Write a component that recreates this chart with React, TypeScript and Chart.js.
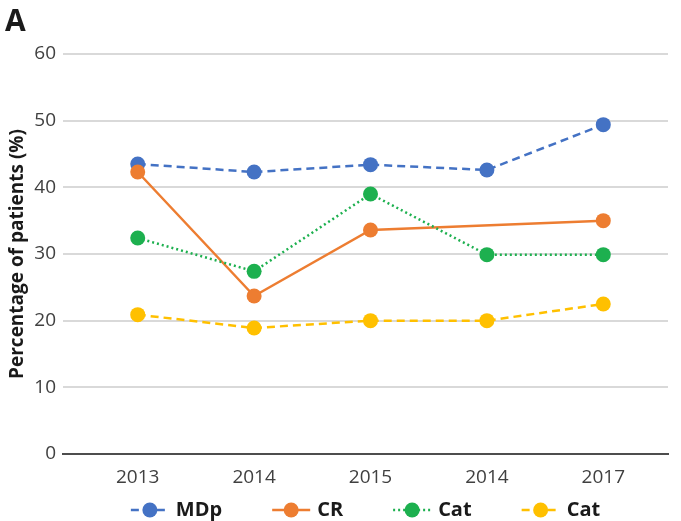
import React, { useEffect, useRef } from 'react';
import { Chart, registerables } from 'chart.js';

Chart.register(...registerables);
Chart.defaults.font.family = "'Open Sans', 'DejaVu Sans', sans-serif";

const categories = ['2013', '2014', '2015', '2014', '2017'];
const seriesNames = ['MDp', 'CR', 'Cat', 'Cat'];
const mdpValues = [43.5, 42.3, 43.4, 42.6, 49.4];
const crValues = [42.3, 23.7, 33.6, null, 35.0];
const catGreenValues = [32.4, 27.4, 39.0, 29.9, 29.9];
const catYellowValues = [20.9, 18.9, 20.0, 20.0, 22.5];
const yTicks = [0, 10, 20, 30, 40, 50, 60];

const colors = ['#4472C4', '#ED7D31', '#1DB04F', '#FFC000'];
const dashes: number[][] = [[8, 5], [], [2, 3], [8, 5]];

const legendPlugin = {
  id: 'lineLegend',
  afterDraw(chart: any) {
    const ctx: CanvasRenderingContext2D = chart.ctx;
    const area = chart.chartArea;
    const lineLen = 38;
    const textGap = 7;
    const itemGap = 50;
    const y = chart.height - 11;
    ctx.save();
    ctx.font = "bold 20px 'Open Sans', 'DejaVu Sans', sans-serif";
    const widths = seriesNames.map((n) => ctx.measureText(n).width);
    const total =
      widths.reduce((a, w) => a + lineLen + textGap + w, 0) + itemGap * (seriesNames.length - 1);
    let x = (area.left + area.right) / 2 - total / 2;
    seriesNames.forEach((name, i) => {
      ctx.strokeStyle = colors[i];
      ctx.lineWidth = 2.5;
      ctx.setLineDash(dashes[i]);
      ctx.beginPath();
      ctx.moveTo(x, y);
      ctx.lineTo(x + lineLen, y);
      ctx.stroke();
      ctx.setLineDash([]);
      ctx.fillStyle = colors[i];
      ctx.beginPath();
      ctx.arc(x + lineLen / 2, y, 7.5, 0, Math.PI * 2);
      ctx.fill();
      ctx.fillStyle = '#1a1a1a';
      ctx.textAlign = 'left';
      ctx.textBaseline = 'middle';
      ctx.fillText(name, x + lineLen + textGap, y);
      x += lineLen + textGap + widths[i] + itemGap;
    });
    ctx.restore();
  },
};

export default function App() {
  const ref = useRef<HTMLCanvasElement>(null);

  useEffect(() => {
    const canvas = ref.current;
    if (!canvas) return;
    const seriesList = [mdpValues, crValues, catGreenValues, catYellowValues];

    const datasets = seriesList.map((vals, i) => ({
      label: seriesNames[i],
      data: vals.map((v, j) => ({ x: j, y: v })),
      borderColor: colors[i],
      backgroundColor: colors[i],
      borderWidth: 2.5,
      borderDash: dashes[i],
      pointRadius: 7.5,
      pointHoverRadius: 7.5,
      pointBackgroundColor: colors[i],
      pointBorderColor: colors[i],
      pointBorderWidth: 0,
      spanGaps: true,
      tension: 0,
      order: 4 - i,
    }));

    const chart = new Chart(canvas, {
      type: 'line',
      data: { datasets: datasets as any },
      plugins: [legendPlugin],
      options: {
        animation: false,
        responsive: true,
        maintainAspectRatio: false,
        layout: { padding: { left: 5, right: 13, top: 0, bottom: 21 } },
        plugins: {
          tooltip: { enabled: false },
          legend: { display: false },
          title: {
            display: true,
            text: 'A',
            align: 'start',
            color: '#1a1a1a',
            font: { size: 30, weight: 'bold' },
            padding: { top: 4, bottom: 14 },
          },
        },
        scales: {
          x: {
            type: 'linear',
            min: -0.642,
            max: 4.556,
            afterBuildTicks: (s: any) => {
              s.ticks = categories.map((_, i) => ({ value: i }));
            },
            afterFit: (s: any) => {
              s.height = 46;
            },
            ticks: {
              callback: (_v: any, i: number) => categories[i],
              font: { size: 19 },
              color: '#404040',
              padding: 12,
              maxRotation: 0,
              autoSkip: false,
            },
            grid: { display: false, drawTicks: false },
            border: { display: true, color: '#4d4d4d', width: 2 },
          },
          y: {
            min: 0,
            max: 60,
            afterBuildTicks: (s: any) => {
              s.ticks = yTicks.map((v) => ({ value: v }));
            },
            afterFit: (s: any) => {
              s.width = 58;
            },
            ticks: { font: { size: 19 }, color: '#404040', padding: 7 },
            grid: { color: '#d9d9d9', lineWidth: 2, drawTicks: false },
            border: { display: false },
            title: {
              display: true,
              text: 'Percentage of patients (%)',
              color: '#1a1a1a',
              font: { size: 19, weight: 'bold' },
              padding: { top: 1, bottom: 0 },
            },
          },
        },
      } as any,
    });
    return () => chart.destroy();
  }, []);

  return (
    <div style={{ position: 'fixed', left: 0, top: 0, width: 681, height: 521, background: '#fff' }}>
      <canvas ref={ref} width={681} height={521} style={{ display: 'block' }} />
    </div>
  );
}
